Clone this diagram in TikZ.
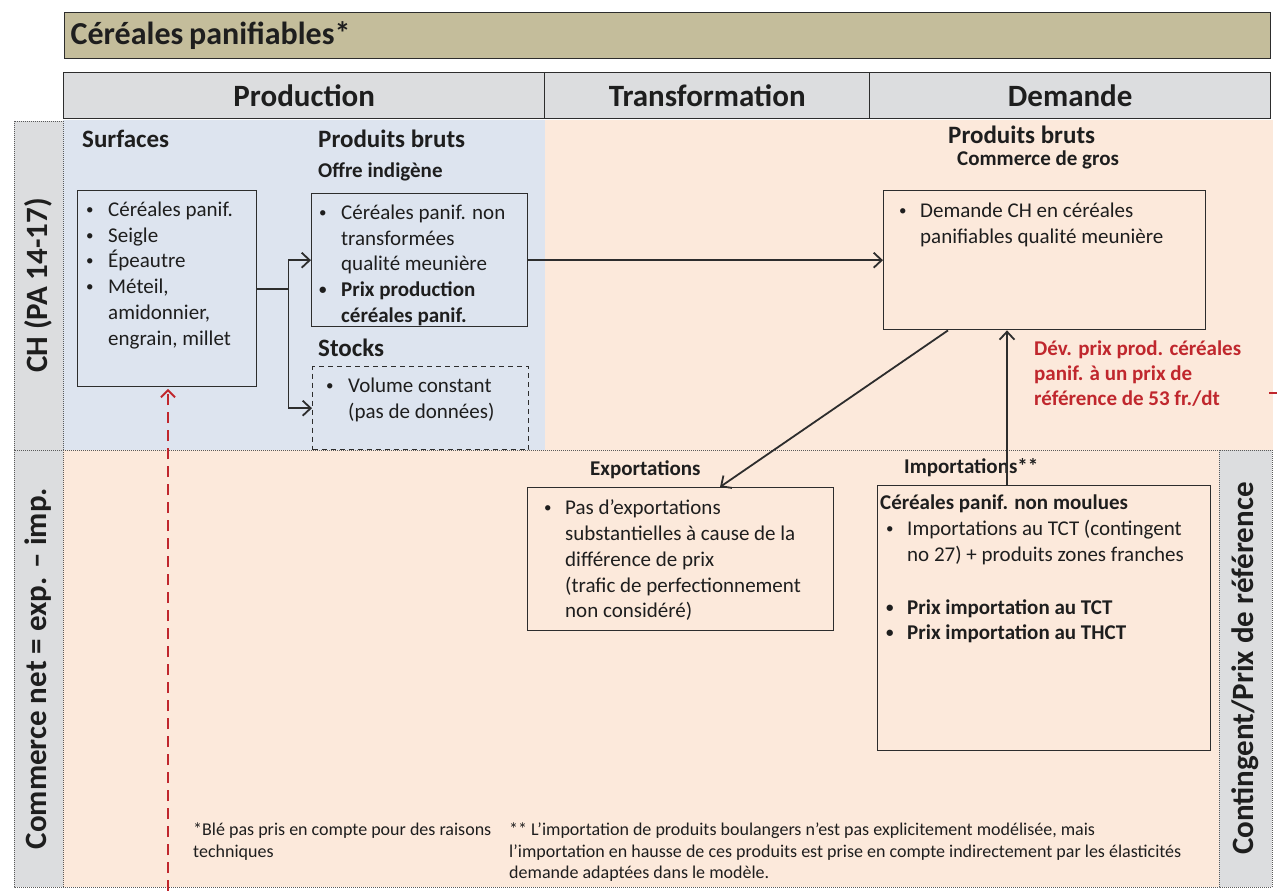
\documentclass[tikz,border=0pt]{standalone}
\usepackage{fontspec}
\setmainfont{Carlito}
\usetikzlibrary{arrows.meta}

\definecolor{titlefill}{RGB}{196,189,155}
\definecolor{hdrfill}{RGB}{220,221,223}
\definecolor{bluefill}{RGB}{221,228,239}
\definecolor{orangefill}{RGB}{252,233,219}
\definecolor{boxline}{RGB}{45,45,45}
\definecolor{txtcol}{RGB}{30,30,30}
\definecolor{redtxt}{RGB}{192,39,45}
\definecolor{dotcol}{RGB}{90,90,90}

\newcommand\dotmark{\raisebox{1.8pt}{\fontsize{15}{18}\selectfont •}}

\begin{document}
\begin{tikzpicture}[x=1pt,y=-1pt,
  box/.style={draw=boxline, line width=1.4pt, inner sep=0pt, anchor=north west},
  dashbox/.style={box, dash pattern=on 5pt off 4pt},
  dotline/.style={draw=dotcol, line width=1pt, dash pattern=on 1pt off 1pt},
  hdr/.style={draw=boxline, line width=1.4pt, fill=hdrfill, anchor=north west,
    minimum height=46pt, inner sep=0pt, text=txtcol,
    font=\bfseries\fontsize{31}{36}\selectfont},
  sidelab/.style={dotline, fill=hdrfill, rotate=90, inner sep=0pt, text=txtcol,
    font=\bfseries\fontsize{31}{36}\selectfont},
  txt/.style={anchor=base west, inner sep=0pt, text=txtcol, font=\fontsize{21}{25}\selectfont},
  btxt/.style={txt, font=\bfseries\fontsize{21}{25}\selectfont},
  subhead/.style={txt, font=\bfseries\fontsize{25}{30}\selectfont},
  redline/.style={txt, text=redtxt, font=\bfseries\fontsize{21}{25}\selectfont},
  note/.style={txt, font=\fontsize{18}{22}\selectfont},
  link/.style={draw=boxline, line width=1.8pt},
  arr/.style={link, -{Straight Barb[length=8pt,width=15pt,line width=1.8pt]}},
  redarr/.style={draw=redtxt, line width=2pt, dash pattern=on 11pt off 7pt,
    -{Straight Barb[length=7pt,width=14pt,line width=2pt,sep]}}
]
\useasboundingbox (0,0) rectangle (1277,891);
\fill[white] (0,0) rectangle (1277,891);

% background zones
\fill[bluefill] (63,120) rectangle (545,450);
\fill[orangefill] (545,120) rectangle (1273,450);
\fill[orangefill] (63,450) rectangle (1219,887);

% title bar
\node[box, fill=titlefill, minimum width=1206pt, minimum height=46pt,
      text width=1194pt, inner xsep=6pt, align=left, text=txtcol,
      font=\bfseries\fontsize{32}{38}\selectfont] (title) at (64,12) {Céréales\hspace{0.18em}panifiables*};

% column headers
\node[hdr, minimum width=481pt] (hprod) at (63,72) {Production};
\node[hdr, minimum width=325pt] (htrans) at (544,72) {Transformation};
\node[hdr, minimum width=401pt] (hdem) at (869,72) {Demande};

% row labels
\node[sidelab, minimum width=329pt, minimum height=49pt] (rowch) at (38.5,285.5) {CH (PA 14-17)};
\node[sidelab, minimum width=437pt, minimum height=49pt] (rowcom) at (38.5,668.5) {Commerce net = exp. – imp.};
\node[sidelab, minimum width=437pt, minimum height=53pt] (rowcont) at (1245.5,668.5) {Contingent/Prix de référence};

% zone separators
\coordinate (sepl) at (63,450);
\coordinate (sepr) at (1219,450);
\draw[dotline] (sepl) -- (sepr);
\coordinate (botl) at (63,887);
\coordinate (botr) at (1219,887);
\draw[dotline] (botl) -- (botr);

% boxes
\node[box, minimum width=179pt, minimum height=196pt] (surf) at (77,190) {};
\node[box, minimum width=216pt, minimum height=133pt] (offre) at (311,193) {};
\node[dashbox, minimum width=216pt, minimum height=83pt] (stocks) at (312,366) {};
\node[box, minimum width=322pt, minimum height=139pt] (dem) at (883,190) {};
\node[box, minimum width=306pt, minimum height=143pt] (expo) at (527,487) {};
\node[box, minimum width=333pt, minimum height=265pt] (impo) at (877,485) {};

% headings
\node[subhead] (hsurf) at (82,147) {Surfaces};
\node[subhead] (hbruts) at (318,147) {Produits bruts};
\node[btxt] (hoffre) at (318,177) {Offre indigène};
\node[subhead] (hstock) at (318,356) {Stocks};
\node[subhead] (hbruts2) at (948,143) {Produits bruts};
\node[btxt] (hgros) at (957,165) {Commerce de gros};
\node[btxt] (hexp) at (590,475) {Exportations};
\node[btxt] (himp) at (904,473) {Importations**};

% surfaces
\node[txt] (s1b) at (86,216) {\dotmark};
\node[txt] (s1) at (108,216) {Céréales panif.};
\node[txt] (s2b) at (86,242) {\dotmark};
\node[txt] (s2) at (108,242) {Seigle};
\node[txt] (s3b) at (86,267) {\dotmark};
\node[txt] (s3) at (108,267) {Épeautre};
\node[txt] (s4b) at (86,293) {\dotmark};
\node[txt] (s4) at (108,293) {Méteil,};
\node[txt] (s5) at (108,319) {amidonnier,};
\node[txt] (s6) at (108,345) {engrain, millet};

% domestic supply
\node[txt] (o1b) at (319,219) {\dotmark};
\node[txt] (o1) at (341,219) {Céréales panif. non};
\node[txt] (o2) at (341,245) {transformées};
\node[txt] (o3) at (341,270) {qualité meunière};
\node[btxt] (o4b) at (319,296) {\dotmark};
\node[btxt] (o4) at (341,296) {Prix production};
\node[btxt] (o5) at (341,322) {céréales panif.};

% stocks
\node[txt] (k1b) at (326,392) {\dotmark};
\node[txt] (k1) at (348,392) {Volume constant};
\node[txt] (k2) at (348,418) {(pas de données)};

% demand
\node[txt] (d1b) at (899,217) {\dotmark};
\node[txt] (d1) at (920,217) {Demande CH en céréales};
\node[txt] (d2) at (920,243) {panifiables qualité meunière};

% reference price note
\node[redline] (r1) at (1034,355) {Dév. prix prod. céréales};
\node[redline] (r2) at (1034,380) {panif. à un prix de};
\node[redline] (r3) at (1034,405) {référence de 53 fr./dt};

% exports
\node[txt] (e1b) at (544,514) {\dotmark};
\node[txt] (e1) at (565,514) {Pas d’exportations};
\node[txt] (e2) at (565,540) {substantielles à cause de la};
\node[txt] (e3) at (565,566) {différence de prix};
\node[txt] (e4) at (565,592) {(trafic de perfectionnement};
\node[txt] (e5) at (565,617) {non considéré)};

% imports
\node[btxt] (i0) at (880,509) {Céréales panif. non moulues};
\node[txt] (i1b) at (886,535) {\dotmark};
\node[txt] (i1) at (907,535) {Importations au TCT (contingent};
\node[txt] (i2) at (907,561) {no 27) + produits zones franches};
\node[btxt] (i3b) at (886,614) {\dotmark};
\node[btxt] (i3) at (907,614) {Prix importation au TCT};
\node[btxt] (i4b) at (886,639) {\dotmark};
\node[btxt] (i4) at (907,639) {Prix importation au THCT};

% footnotes
\node[note] (n1) at (193,835) {*Blé pas pris en compte pour des raisons};
\node[note] (n2) at (193,857) {techniques};
\node[note] (n3) at (509,835) {** L’importation de produits boulangers n’est pas explicitement modélisée, mais};
\node[note] (n4) at (509,857) {l’importation en hausse de ces produits est prise en compte indirectement par les élasticités};
\node[note] (n5) at (509,878) {demande adaptées dans le modèle.};

% connectors
\draw[link] (surf.east) -- ([xshift=31pt]surf.east) coordinate (fork);
\draw[link] (fork |- offre.west) -- (fork |- stocks.west);
\draw[arr] (fork |- offre.west) -- (offre.west);
\draw[arr] (fork |- stocks.west) -- (stocks.west);
\draw[arr] (offre.east) -- (dem.west);
\draw[arr] ([xshift=65pt]dem.south west) -- ([xshift=193pt]expo.north west);
\draw[arr] ([xshift=130pt]impo.north west) -- ([xshift=130pt]impo.north west |- dem.south);

% price feedback to areas
\coordinate (redbot) at (168,891);
\draw[redarr] (redbot) -- (redbot |- surf.south);
\coordinate (redout) at (1277,393);
\draw[draw=redtxt, line width=2pt] (redout) -- ++(-8,0);
\end{tikzpicture}
\end{document}
